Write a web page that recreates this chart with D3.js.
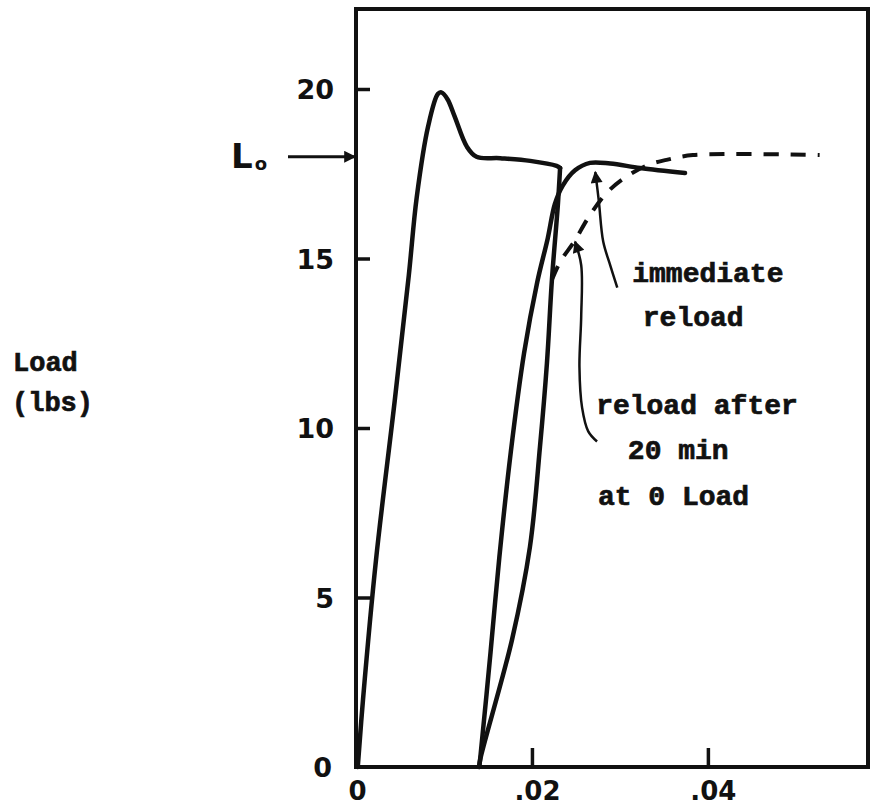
<!DOCTYPE html>
<html>
<head>
<meta charset="utf-8">
<script src="https://cdn.jsdelivr.net/npm/d3@7"></script>
<style>
  html, body { margin: 0; padding: 0; background: #fff; }
  svg { display: block; }
</style>
</head>
<body>
<svg id="chart" width="877" height="812"></svg>
<script>
// ---------- data (strain in/in, load lbs) ----------
const yTicks = [0, 5, 10, 15, 20];
const yTickLabels = ["0", "5", "10", "15", "20"];
const xTicks = [0, 0.02, 0.04];
const xTickLabels = ["0", ".02", ".04"];
const L0 = 18.0;

// initial loading (yield peak, then plateau)
const initialLoad = [
  [0.0002, 0], [0.0008, 2.0], [0.00227, 6.1], [0.0044, 10.8], [0.0060, 14.5],
  [0.0069, 16.8], [0.0082, 18.9], [0.0093, 19.85], [0.0097, 19.9], [0.0104, 19.7],
  [0.0112, 19.2], [0.0126, 18.3], [0.0137, 18.0], [0.0164, 17.96],
  [0.0198, 17.88], [0.0228, 17.73], [0.0232, 17.67]
];
// unloading
const unload = [
  [0.0232, 17.67], [0.02295, 16.6], [0.02227, 14.37], [0.0217, 11.9],
  [0.02091, 9.44], [0.01977, 6.49], [0.01773, 3.75], [0.0141, 0.2], [0.0140, 0]
];
// immediate reload
const immediateReload = [
  [0.0140, 0], [0.0141, 0.2], [0.0153, 3.4], [0.0163, 6.2], [0.0176, 9.3],
  [0.0191, 12.2], [0.0206, 14.3], [0.0218, 15.6], [0.0226, 16.6], [0.0235, 17.15],
  [0.0249, 17.6], [0.0266, 17.82], [0.0289, 17.8], [0.0323, 17.67], [0.0374, 17.52]
];
// reload after 20 min at 0 load (dashed part)
const reload20 = [
  [0.02227, 14.37], [0.0232, 14.9], [0.0248, 15.5], [0.0264, 16.2], [0.0282, 16.85],
  [0.0302, 17.32], [0.0332, 17.76], [0.0353, 17.91], [0.0383, 18.05], [0.0527, 18.05]
];

const annotations = [
  { text: "immediate", x: 0.0314, y: 14.3 },
  { text: "reload", x: 0.0326, y: 13.0 },
  { text: "reload after", x: 0.0273, y: 10.4 },
  { text: "20 min", x: 0.0309, y: 9.1 },
  { text: "at 0 Load", x: 0.0275, y: 7.73 }
];
// arrow paths pointing at the curves
const arrowImmediate = [[0.0297, 14.14], [0.0289, 14.8], [0.0281, 15.5], [0.0276, 16.7], [0.0272, 17.55]];
const arrow20 = [[0.0274, 9.6], [0.0264, 9.9], [0.0257, 10.6], [0.0254, 11.8], [0.0256, 13.3], [0.0256, 14.8], [0.0249, 15.5]];

// ---------- layout ----------
const svg = d3.select("#chart");
const x = d3.scaleLinear().domain([0, 0.0582]).range([356, 868]);
const y = d3.scaleLinear().domain([0, 20]).range([767, 89]);
const yTop = y.invert(9);
const ink = "#111";

svg.append("rect").attr("width", 877).attr("height", 812).attr("fill", "#fff");

// frame
svg.append("rect")
  .attr("x", x(0)).attr("y", y(yTop))
  .attr("width", x(0.0582) - x(0)).attr("height", y(0) - y(yTop))
  .attr("fill", "none").attr("stroke", ink).attr("stroke-width", 4);

// y axis
const yAxis = d3.axisLeft(y).tickValues(yTicks.slice(1))
  .tickFormat((d) => yTickLabels[yTicks.indexOf(d)])
  .tickSize(-14).tickPadding(22);
const gy = svg.append("g").attr("transform", `translate(${x(0)},0)`).call(yAxis);
gy.select(".domain").remove();
gy.selectAll(".tick line").attr("stroke", ink).attr("stroke-width", 3.5);
gy.selectAll(".tick text").attr("fill", ink)
  .style("font-family", "'DejaVu Sans', sans-serif").style("font-weight", "bold")
  .style("font-size", "27px").attr("dy", "0.36em");
// the zero label (not a tick mark)
svg.append("text").attr("x", x(0) - 24).attr("y", y(0)).attr("dy", "0.36em")
  .attr("text-anchor", "end").attr("fill", ink)
  .style("font-family", "'DejaVu Sans', sans-serif").style("font-weight", "bold")
  .style("font-size", "27px").text(yTickLabels[0]);

// x axis
const xAxis = d3.axisBottom(x).tickValues(xTicks)
  .tickFormat((d) => xTickLabels[xTicks.indexOf(d)])
  .tickSize(-19).tickPadding(0);
const gx = svg.append("g").attr("transform", `translate(0,${y(0)})`).call(xAxis);
gx.select(".domain").remove();
gx.selectAll(".tick line").attr("stroke", ink).attr("stroke-width", 3.5)
  .attr("display", (d) => d === 0 ? "none" : null);
gx.selectAll(".tick text").attr("fill", ink)
  .style("font-family", "'DejaVu Sans', sans-serif").style("font-weight", "bold")
  .style("font-size", "26px")
  .attr("y", 33).attr("dy", 0)
  .attr("x", (d) => d === 0 ? 1 : 5);

// arrow marker
const defs = svg.append("defs");
defs.append("marker")
  .attr("id", "ah2").attr("viewBox", "0 0 10 10").attr("refX", 9).attr("refY", 5)
  .attr("markerWidth", 16).attr("markerHeight", 12).attr("markerUnits", "userSpaceOnUse")
  .attr("orient", "auto")
  .append("path").attr("d", "M0,0 L10,5 L0,10 z").attr("fill", ink);

// L0 marker
svg.append("line")
  .attr("x1", 288).attr("x2", x(0) - 1)
  .attr("y1", y(L0)).attr("y2", y(L0))
  .attr("stroke", ink).attr("stroke-width", 3)
  .attr("marker-end", "url(#ah2)");
const lt = svg.append("text").attr("x", 231).attr("y", y(L0) + 11).attr("fill", ink)
  .style("font-family", "'DejaVu Sans', sans-serif").style("font-weight", "bold")
  .style("font-size", "34px");
lt.append("tspan").text("L");
lt.append("tspan").attr("dx", 2).attr("dy", 2).style("font-size", "18px").text("o");

// axis title
const title = svg.append("g").attr("fill", ink).attr("stroke", ink).attr("stroke-width", 0.7)
  .style("font-family", "'Liberation Mono', 'Courier New', monospace")
  .style("font-weight", "bold").style("font-size", "27px");
title.append("text").attr("x", 13).attr("y", 371).text("Load");
title.append("text").attr("x", 12).attr("y", 411).text("(lbs)");

// curves
const line = d3.line().x((d) => x(d[0])).y((d) => y(d[1])).curve(d3.curveCatmullRom.alpha(0.5));
const curves = svg.append("g").attr("fill", "none").attr("stroke", ink)
  .attr("stroke-linejoin", "round").attr("stroke-linecap", "round");
curves.append("path").attr("d", line(initialLoad)).attr("stroke-width", 4.5);
curves.append("path").attr("d", line(unload)).attr("stroke-width", 4.5);
curves.append("path").attr("d", line(immediateReload)).attr("stroke-width", 4.5);
curves.append("path").attr("d", line(reload20)).attr("stroke-width", 4)
  .attr("stroke-linecap", "butt").attr("stroke-dasharray", "15,12");

// annotation arrows
const arrows = svg.append("g").attr("fill", "none").attr("stroke", ink).attr("stroke-width", 2.5);
arrows.append("path").attr("d", line(arrowImmediate)).attr("marker-end", "url(#ah2)");
arrows.append("path").attr("d", line(arrow20)).attr("marker-end", "url(#ah2)");

// annotation text
svg.append("g").attr("fill", ink).attr("stroke", ink).attr("stroke-width", 0.7)
  .style("font-family", "'Liberation Mono', 'Courier New', monospace")
  .style("font-weight", "bold").style("font-size", "28px")
  .selectAll("text").data(annotations).join("text")
  .attr("x", (d) => x(d.x)).attr("y", (d) => y(d.y)).text((d) => d.text);
</script>
</body>
</html>
